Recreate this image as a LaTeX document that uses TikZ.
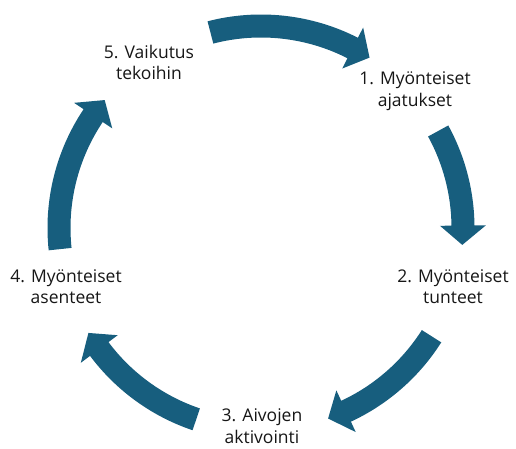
\documentclass[tikz,border=0pt]{standalone}
\usepackage{fontspec}
\setmainfont{Open Sans}
\usetikzlibrary{calc}
\definecolor{arrowblue}{HTML}{175E7E}
\definecolor{textgrey}{HTML}{161616}
\tikzset{
  lbl/.style={align=center, font=\fontsize{17.5}{21.5}\selectfont, inner sep=0pt, text=textgrey},
  cyc/.style={fill=arrowblue, draw=none},
}
% curved block arrow on the cycle: #1 = tail angle, #2 = tip angle
\newcommand\cyclearrow[2]{%
  \fill[cyc] ($(C)+({#1}:213.5pt)$) arc[start angle={#1}, end angle={#2+5.5}, radius=213.5pt]
    -- ($(C)+({#2+5.5}:225pt)$) -- ($(C)+({#2}:202pt)$) -- ($(C)+({#2+5.5}:179pt)$)
    -- ($(C)+({#2+5.5}:190.5pt)$) arc[start angle={#2+5.5}, end angle={#1}, radius=190.5pt] -- cycle;
}
\begin{document}
\begin{tikzpicture}[x=1pt, y=1pt]
  \useasboundingbox (0,0) rectangle (516,449);
  \coordinate (C) at (261,221);

  % the five arrows of the cycle
  \cyclearrow{104.5}{57.5}
  \cyclearrow{28.7}{-4.8}
  \cyclearrow{-32.4}{-70.6}
  \cyclearrow{-108.7}{-148.7}
  \cyclearrow{186}{140.7}

  % stage labels
  \node[lbl] (s1) at (415,358) {1. Myönteiset\\ajatukset};
  \node[lbl] (s2) at (453,162.5) {2. Myönteiset\\tunteet};
  \node[lbl] (s3) at (262,23) {3. Aivojen\\aktivointi};
  \node[lbl] (s4) at (66,162.5) {4. Myönteiset\\asenteet};
  \node[lbl] (s5) at (149,386.5) {5. Vaikutus\\tekoihin};
\end{tikzpicture}
\end{document}
